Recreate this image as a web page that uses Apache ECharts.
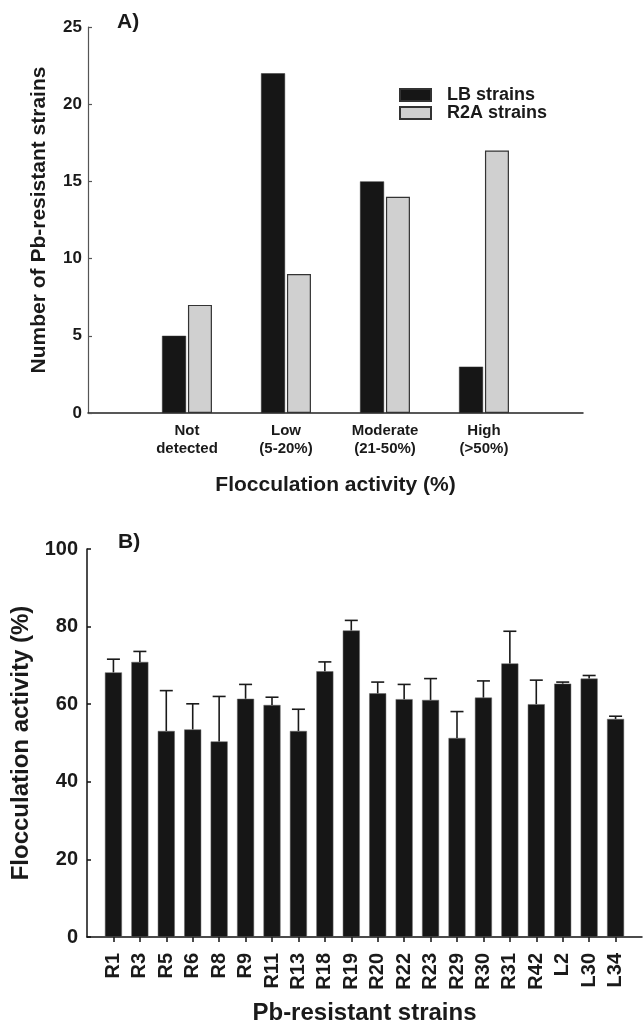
<!DOCTYPE html>
<html>
<head>
<meta charset="utf-8">
<script src="https://cdn.jsdelivr.net/npm/echarts@6/dist/echarts.min.js"></script>
<style>
  html, body { margin: 0; padding: 0; background: #fff; }
  #chart { width: 643px; height: 1026px; }
</style>
</head>
<body>
<div id="chart"></div>
<script>
// Panel A: flocculation classes
const flocClasses = ['Not\ndetected', 'Low\n(5-20%)', 'Moderate\n(21-50%)', 'High\n(>50%)']
const lbStrains = [5, 22, 15, 3]
const r2aStrains = [7, 9, 14, 17]

// Panel B: per-strain flocculation activity (%) and error
const strainNames = ['R1', 'R3', 'R5', 'R6', 'R8', 'R9', 'R11', 'R13', 'R18', 'R19',
  'R20', 'R22', 'R23', 'R29', 'R30', 'R31', 'R42', 'L2', 'L30', 'L34']
const flocActivity = [68.2, 70.9, 53.1, 53.5, 50.4, 61.4, 59.8, 53.1, 68.5, 79.0,
  62.8, 61.3, 61.1, 51.3, 61.7, 70.5, 60.0, 65.3, 66.6, 56.2]
const flocError = [3.4, 2.7, 10.4, 6.6, 11.6, 3.7, 2.0, 5.6, 2.4, 2.6,
  2.9, 3.8, 5.5, 6.8, 4.3, 8.3, 6.2, 0.4, 0.8, 0.7]

const FONT = 'Arial, "Liberation Sans", Helvetica, sans-serif'
const INK = '#1a1a1a'

// pad both ends with an empty slot so bars sit at 1..n like the original axes
const pad = arr => ['', ...arr, '']
const padData = arr => ['-', ...arr, '-']

const catsA = pad(flocClasses)
const catsB = pad(strainNames)
const errData = strainNames.map((s, i) => [i + 1, flocActivity[i], flocActivity[i] + flocError[i]])

const chart = echarts.init(document.getElementById('chart'))

const option = {
  animation: false,
  textStyle: { fontFamily: FONT },
  title: [
    { text: 'A)', left: 112, top: 7, textStyle: { fontFamily: FONT, fontSize: 21, fontWeight: 'bold', color: INK } },
    { text: 'B)', left: 113, top: 527, textStyle: { fontFamily: FONT, fontSize: 21, fontWeight: 'bold', color: INK } }
  ],
  legend: {
    left: 394,
    top: 81,
    orient: 'vertical',
    itemWidth: 31,
    itemHeight: 12,
    itemGap: 0,
    icon: 'rect',
    data: ['LB strains', 'R2A strains'],
    textStyle: {
      fontFamily: FONT, fontSize: 18, fontWeight: 'bold', color: INK,
      lineHeight: 17, padding: [0, 0, 0, 11]
    }
  },
  grid: [
    { left: 88, top: 27, width: 495, height: 386 },
    { left: 87, top: 549, width: 555, height: 389 }
  ],
  xAxis: [
    {
      gridIndex: 0,
      type: 'category',
      data: catsA,
      boundaryGap: false,
      axisLine: { lineStyle: { color: '#222', width: 1.5 } },
      axisTick: { show: false },
      axisLabel: {
        interval: 0, margin: 9, fontFamily: FONT, fontSize: 15, fontWeight: 'bold',
        color: INK, lineHeight: 18
      },
      name: 'Flocculation activity (%)',
      nameLocation: 'middle',
      nameGap: 62,
      nameTextStyle: { fontFamily: FONT, fontSize: 21, fontWeight: 'bold', color: INK, verticalAlign: 'top' }
    },
    {
      gridIndex: 1,
      type: 'category',
      data: catsB,
      boundaryGap: false,
      axisLine: { lineStyle: { color: '#111', width: 1.5 } },
      axisTick: {
        show: true, inside: false, length: 5,
        interval: (idx) => idx > 0 && idx < catsB.length - 1,
        lineStyle: { color: '#111', width: 1.5 }
      },
      axisLabel: {
        interval: 0, rotate: 90, margin: 16, fontFamily: FONT, fontSize: 20,
        fontWeight: 'bold', color: INK
      },
      name: 'Pb-resistant strains',
      nameLocation: 'middle',
      nameGap: 64,
      nameTextStyle: { fontFamily: FONT, fontSize: 24, fontWeight: 'bold', color: INK, verticalAlign: 'top' }
    }
  ],
  yAxis: [
    {
      gridIndex: 0,
      type: 'value',
      min: 0, max: 25, interval: 5,
      splitLine: { show: false },
      axisLine: { show: true, lineStyle: { color: '#555', width: 1.2 } },
      axisTick: { show: true, inside: true, length: 4, lineStyle: { color: '#555', width: 1.2 } },
      axisLabel: { margin: 6, fontFamily: FONT, fontSize: 17, fontWeight: 'bold', color: INK },
      name: 'Number of Pb-resistant strains',
      nameLocation: 'middle',
      nameGap: 38,
      nameTextStyle: { fontFamily: FONT, fontSize: 21, fontWeight: 'bold', color: INK }
    },
    {
      gridIndex: 1,
      type: 'value',
      min: 0, max: 100, interval: 20,
      splitLine: { show: false },
      axisLine: { show: true, lineStyle: { color: '#111', width: 1.5 } },
      axisTick: { show: true, inside: true, length: 4, lineStyle: { color: '#111', width: 1.5 } },
      axisLabel: { margin: 9, fontFamily: FONT, fontSize: 20, fontWeight: 'bold', color: INK },
      name: 'Flocculation activity (%)',
      nameLocation: 'middle',
      nameGap: 47,
      nameTextStyle: { fontFamily: FONT, fontSize: 24, fontWeight: 'bold', color: INK }
    }
  ],
  series: [
    {
      name: 'LB strains',
      type: 'bar',
      xAxisIndex: 0, yAxisIndex: 0,
      data: padData(lbStrains),
      barWidth: 24,
      barGap: '8%',
      itemStyle: { color: '#161616', borderColor: '#333', borderWidth: 0.5 }
    },
    {
      name: 'R2A strains',
      type: 'bar',
      xAxisIndex: 0, yAxisIndex: 0,
      data: padData(r2aStrains),
      barWidth: 24,
      itemStyle: { color: '#d0d0d0', borderColor: '#333', borderWidth: 1.2 }
    },
    {
      name: 'activity',
      type: 'bar',
      xAxisIndex: 1, yAxisIndex: 1,
      data: padData(flocActivity),
      barWidth: 17,
      itemStyle: { color: '#161616', borderColor: '#666', borderWidth: 0.5 }
    },
    {
      name: 'error',
      type: 'custom',
      xAxisIndex: 1, yAxisIndex: 1,
      data: errData,
      encode: { x: 0, y: [1, 2] },
      z: 3,
      renderItem: function (params, api) {
        const x = api.value(0)
        const base = api.coord([x, api.value(1)])
        const top = api.coord([x, api.value(2)])
        const half = 6.5
        const style = { stroke: '#1a1a1a', lineWidth: 1.6 }
        return {
          type: 'group',
          children: [
            { type: 'line', shape: { x1: base[0], y1: base[1], x2: top[0], y2: top[1] }, style },
            { type: 'line', shape: { x1: top[0] - half, y1: top[1], x2: top[0] + half, y2: top[1] }, style }
          ]
        }
      }
    }
  ]
}

chart.setOption(option)
</script>
</body>
</html>
